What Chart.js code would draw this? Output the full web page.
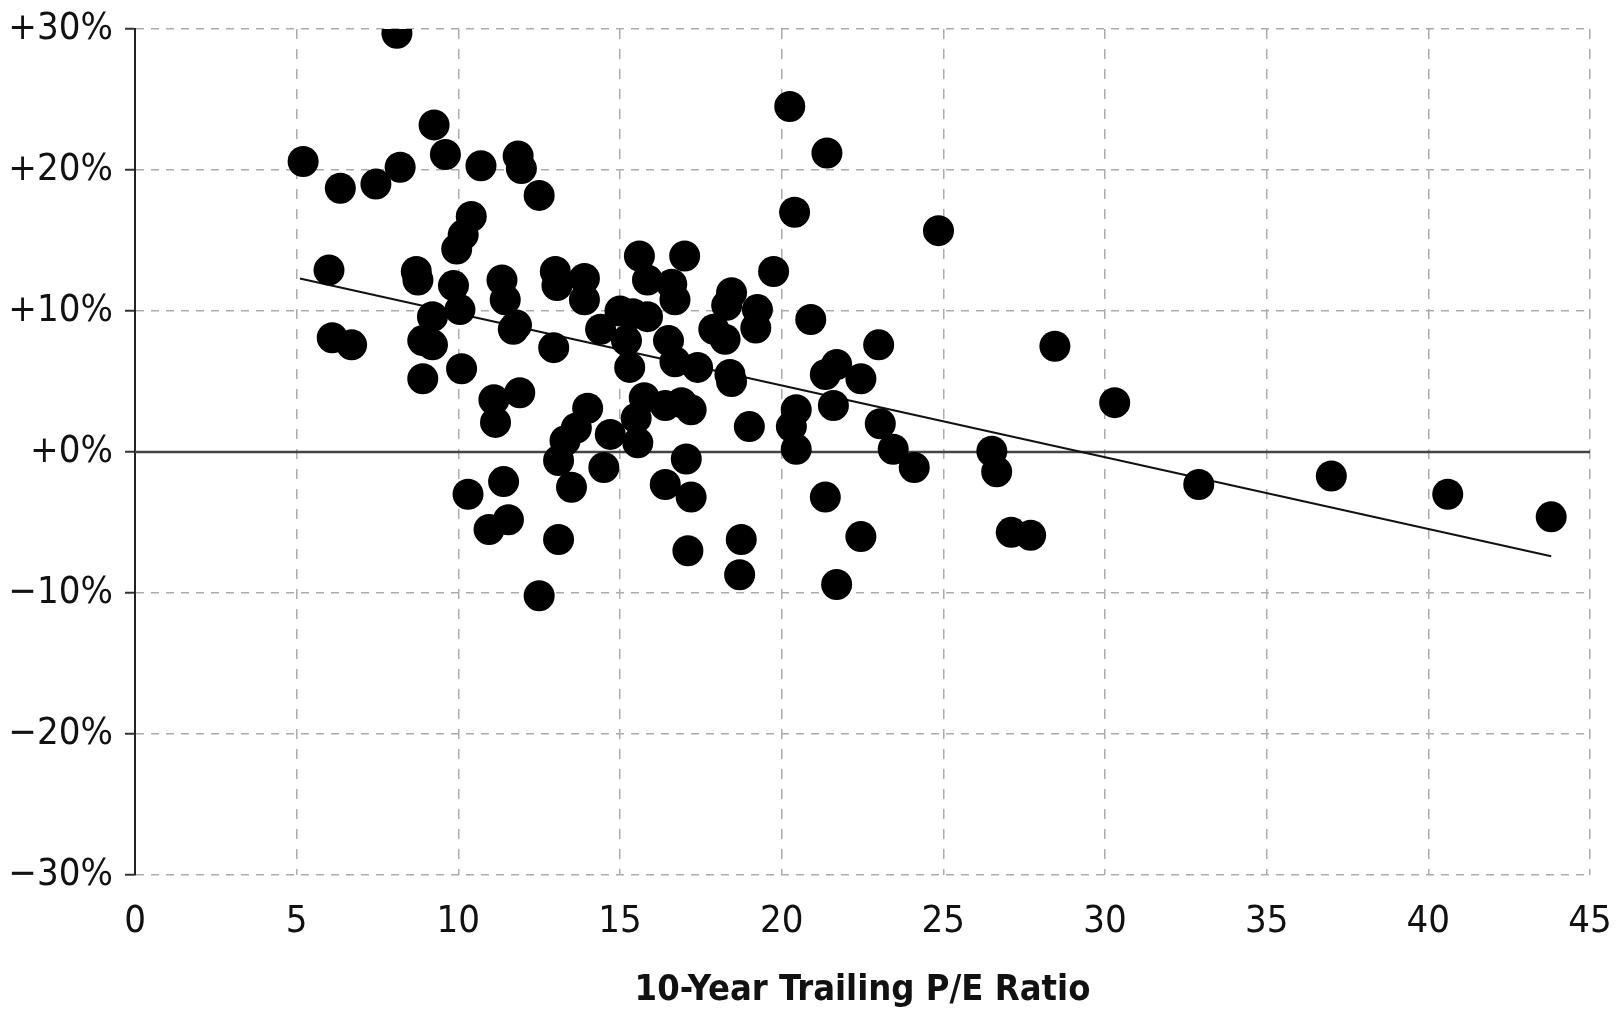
<!DOCTYPE html>
<html>
<head>
<meta charset="utf-8">
<script src="https://cdn.jsdelivr.net/npm/chart.js@4.4.1/dist/chart.umd.min.js"></script>
<style>
  html, body { margin: 0; padding: 0; background: #fff; }
  #wrap { width: 1623px; height: 1015px; position: relative; }
</style>
</head>
<body>
<div id="wrap"><canvas id="peChart"></canvas></div>
<script>
// P/E ratio (x) vs. subsequent annual return in % (y)
const peValues = [
    5.2, 8.1, 6.35, 7.45, 8.2, 9.25, 9.6, 10.7, 11.85, 11.95, 12.5, 20.25, 21.4, 20.4, 24.85,
    6.0, 6.1, 6.7, 8.7, 8.75, 10.4, 10.15, 9.95, 9.85, 10.05, 9.2, 8.9, 9.2, 8.9, 10.1,
    11.35, 11.45, 11.7, 11.8, 11.1, 11.15, 11.9,
    13.0, 13.05, 13.9, 13.9, 12.95, 14.4, 15.0, 15.4, 15.85, 15.2, 15.3, 15.6, 15.85,
    16.6, 16.7, 17.0, 16.5, 16.7, 17.4, 17.9, 18.25, 18.45, 18.3, 19.25, 19.2, 18.4, 18.45,
    19.75, 20.9, 21.7, 21.35, 22.45, 23.0,
    15.75, 15.5, 15.55, 16.4, 16.9, 17.2, 14.0, 14.7, 13.65, 13.3, 13.1, 13.5, 14.5,
    13.1, 12.5, 11.4, 10.3, 11.55, 10.95, 16.4, 17.05, 17.2, 17.1, 18.75, 18.7,
    19.0, 20.3, 20.45, 20.45, 21.6, 23.05, 23.45, 24.1, 21.35, 22.45, 21.7,
    26.5, 26.65, 27.1, 27.7, 28.45, 30.3, 32.9, 37.0, 40.6, 43.8
];
const returnValues = [
    20.6, 29.7, 18.7, 19.0, 20.2, 23.2, 21.1, 20.3, 21.0, 20.1, 18.2, 24.5, 21.2, 17.0, 15.7,
    12.9, 8.1, 7.6, 12.8, 12.2, 16.7, 15.4, 14.4, 11.8, 10.1, 9.6, 7.9, 7.6, 5.2, 5.9,
    12.2, 10.8, 8.7, 9.0, 3.7, 2.1, 4.2,
    12.8, 11.8, 12.3, 10.8, 7.4, 8.7, 10.0, 9.8, 9.6, 7.9, 6.0, 13.9, 12.2,
    11.9, 10.8, 13.9, 7.9, 6.4, 6.0, 8.7, 8.0, 11.3, 10.4, 10.1, 8.8, 5.5, 5.0,
    12.8, 9.4, 6.2, 5.5, 5.2, 7.6,
    3.85, 2.4, 0.65, 3.3, 3.5, 3.0, 3.1, 1.25, 1.7, 0.8, -0.6, -2.5, -1.1,
    -6.2, -10.2, -2.1, -3.0, -4.8, -5.5, -2.3, -0.5, -3.2, -7.0, -6.2, -8.7,
    1.8, 1.8, 3.0, 0.2, 3.3, 2.0, 0.2, -1.1, -3.2, -6.0, -9.4,
    0.05, -1.4, -5.7, -5.9, 7.5, 3.5, -2.3, -1.7, -3.0, -4.6
];

// regression line end points
const trendX = [5.1, 43.8];
const trendY = [12.3, -7.4];

// solid zero line
const zeroX = [0, 45];
const zeroY = [0, 0];

const xTickValues = [0, 5, 10, 15, 20, 25, 30, 35, 40, 45];
const yTickValues = [-30, -20, -10, 0, 10, 20, 30];
const yTickLabels = ['\u221230%', '\u221220%', '\u221210%', '+0%', '+10%', '+20%', '+30%'];
const xTitle = '10-Year Trailing P/E Ratio';

const FONT = "'Liberation Sans Narrow', 'DejaVu Sans Condensed', 'Arial Narrow', sans-serif";

const points = peValues.map((v, i) => ({ x: v, y: returnValues[i] }));
const trend = trendX.map((v, i) => ({ x: v, y: trendY[i] }));
const zero = zeroX.map((v, i) => ({ x: v, y: zeroY[i] }));

const ctx = document.getElementById('peChart');

new Chart(ctx, {
    type: 'scatter',
    data: {
        datasets: [
            {
                data: points,
                backgroundColor: '#000',
                borderWidth: 0,
                pointRadius: 15.5,
                pointHoverRadius: 15.5,
                order: 0
            },
            {
                type: 'line',
                data: trend,
                borderColor: '#111',
                borderWidth: 2,
                pointRadius: 0,
                fill: false,
                order: 1
            },
            {
                type: 'line',
                data: zero,
                borderColor: '#444',
                borderWidth: 2.5,
                pointRadius: 0,
                fill: false,
                order: 2
            }
        ]
    },
    options: {
        responsive: true,
        maintainAspectRatio: false,
        animation: false,
        layout: {
            padding: { top: 29, right: 33, bottom: 0, left: 0 }
        },
        plugins: {
            legend: { display: false },
            tooltip: { enabled: false }
        },
        scales: {
            x: {
                type: 'linear',
                min: 0,
                max: 45,
                afterBuildTicks: (scale) => {
                    scale.ticks = xTickValues.map(v => ({ value: v }));
                },
                afterFit: (scale) => {
                    scale.height = 140;
                    // let the layout padding alone decide the plot edges
                    scale.paddingLeft = 0;
                    scale.paddingRight = 0;
                },
                grid: {
                    color: '#acacac',
                    lineWidth: 1.5,
                    drawTicks: false
                },
                border: {
                    display: false,
                    dash: [10, 10]
                },
                ticks: {
                    padding: 24,
                    color: '#111',
                    font: { family: FONT, size: 38 }
                },
                title: {
                    display: true,
                    text: xTitle,
                    color: '#111',
                    padding: { top: 0, bottom: 3 },
                    font: { family: FONT, size: 36, weight: 'bold' }
                }
            },
            y: {
                type: 'linear',
                min: -30,
                max: 30,
                afterBuildTicks: (scale) => {
                    scale.ticks = yTickValues.map(v => ({ value: v }));
                },
                afterFit: (scale) => {
                    scale.width = 135;
                    scale.paddingTop = 0;
                    scale.paddingBottom = 0;
                },
                grid: {
                    color: '#acacac',
                    lineWidth: 1.5,
                    drawTicks: true,
                    tickLength: 10,
                    tickColor: '#333',
                    tickWidth: 2
                },
                border: {
                    display: true,
                    color: '#222',
                    width: 2,
                    dash: [8, 7]
                },
                ticks: {
                    padding: 12,
                    color: '#111',
                    font: { family: FONT, size: 38 },
                    callback: (value) => yTickLabels[yTickValues.indexOf(value)]
                }
            }
        }
    }
});
</script>
</body>
</html>
